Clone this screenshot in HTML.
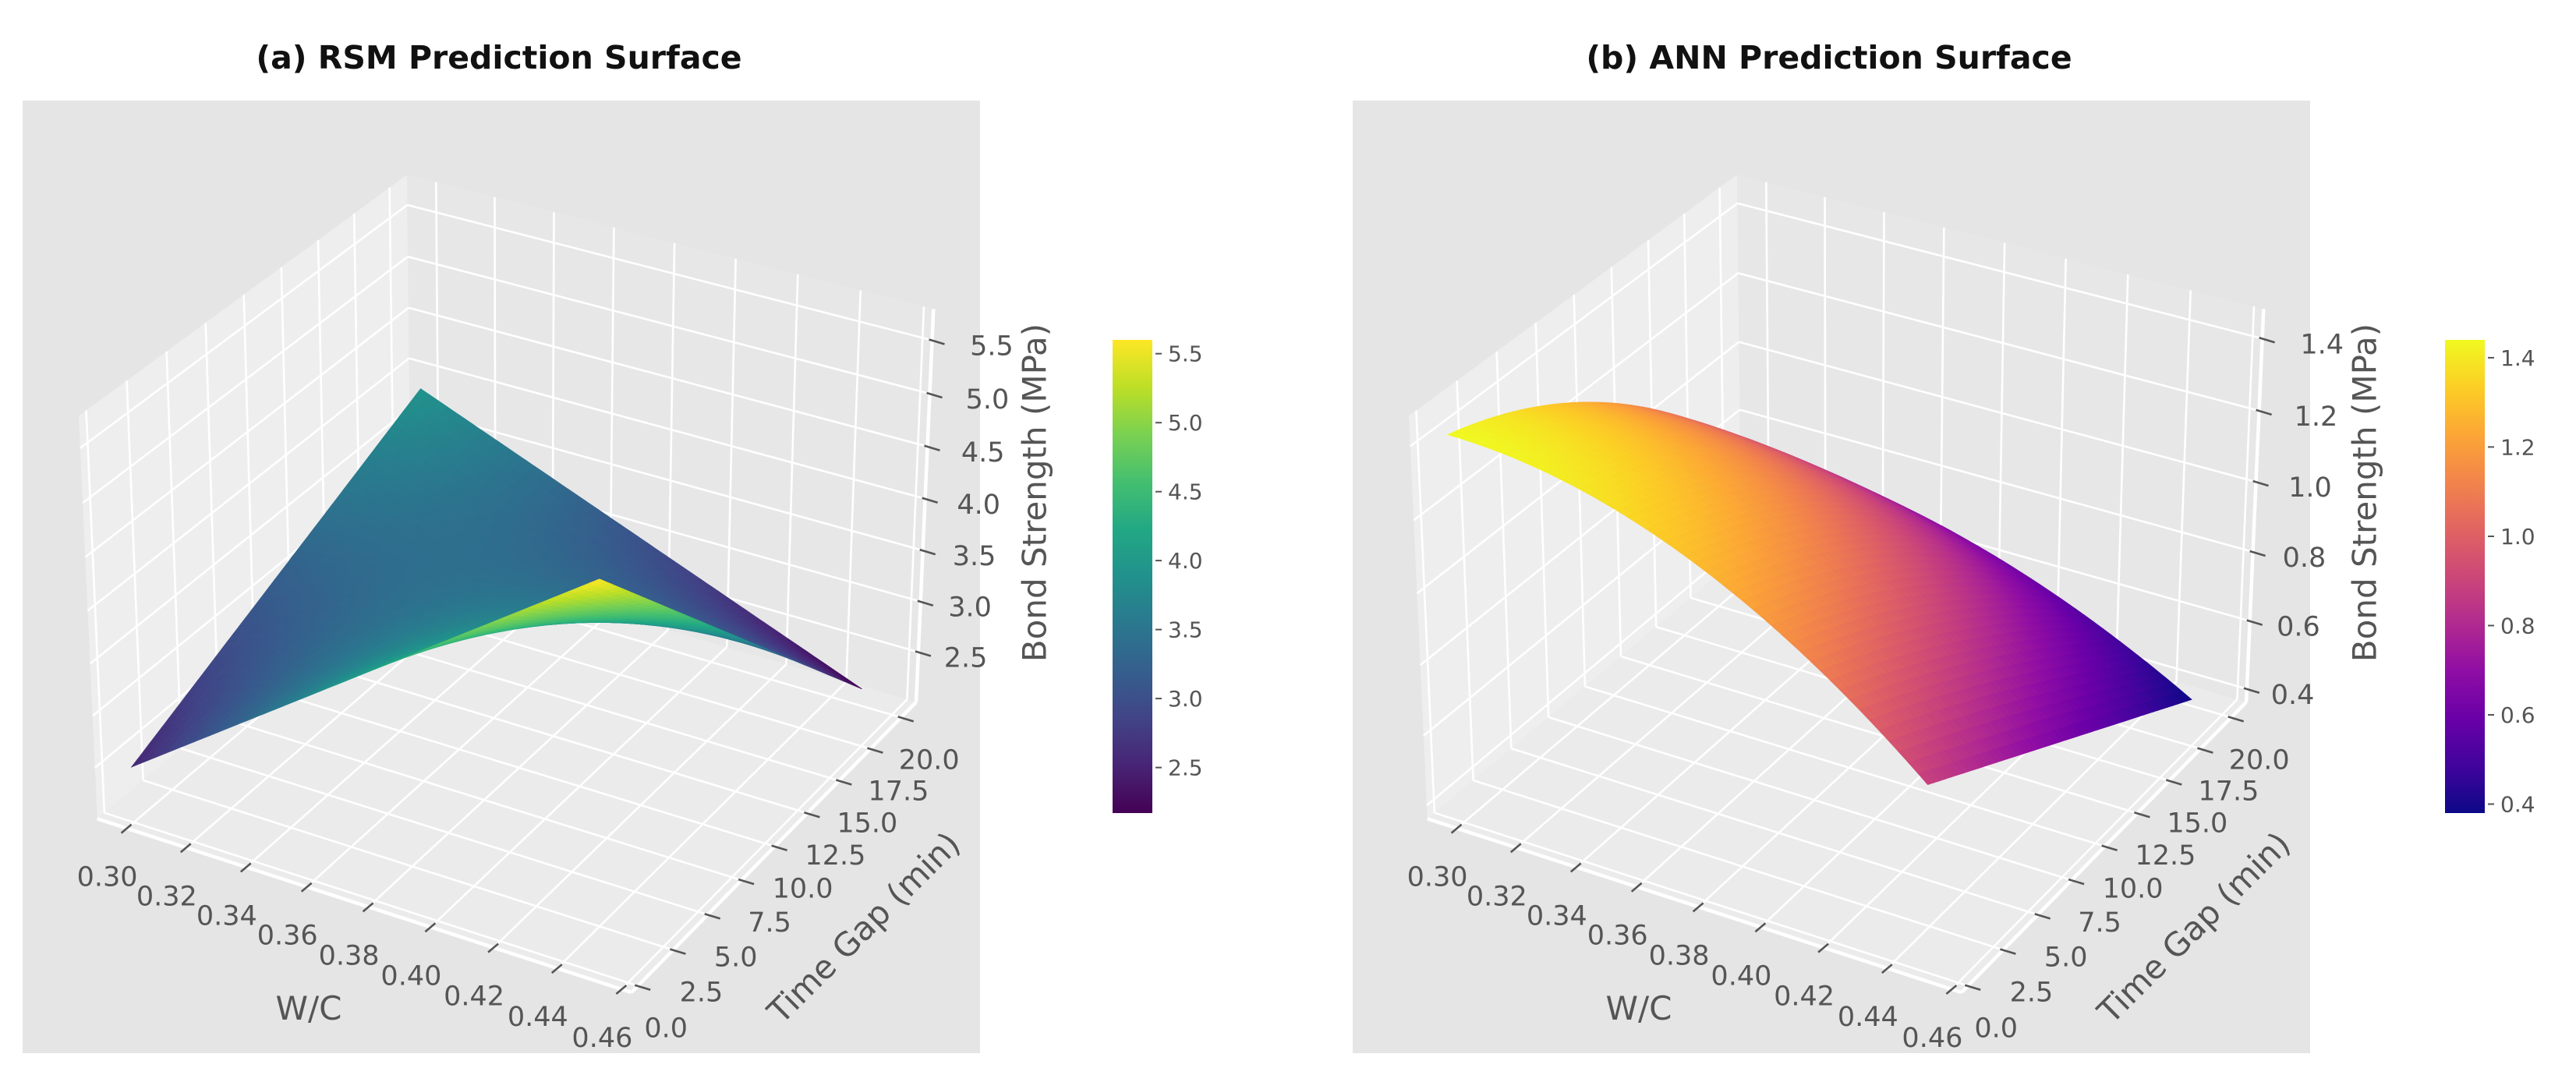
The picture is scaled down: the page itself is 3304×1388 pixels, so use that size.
<!DOCTYPE html>
<html><head><meta charset="utf-8"><title>RSM vs ANN Prediction Surfaces</title>
<style>
html,body{margin:0;padding:0;background:#fff;}
svg{display:block;font-family:"DejaVu Sans","Liberation Sans",sans-serif;}
</style></head>
<body>
<svg id="fig" xmlns="http://www.w3.org/2000/svg" width="3304" height="1388" viewBox="0 0 3304 1388">
<defs>
<linearGradient id="gradViridis" x1="0" y1="1" x2="0" y2="0"></linearGradient>
<linearGradient id="gradPlasma" x1="0" y1="1" x2="0" y2="0"></linearGradient>
</defs>
<rect x="0" y="0" width="3304" height="1388" fill="#ffffff"/>
<g id="panelA"></g>
<g id="panelB"></g>
</svg>
<script>
// ---- data ----
const wcRange = [0.30, 0.45];
const tRange = [0, 20];
// surface coefficients on normalized u=(wc-0.30)/0.15, v=t/20 : [1, u, v, uv, u^2, v^2, u^2 v, u^2 v^2]
const rsmCoef = [2.54, 3.06, 1.37, -4.8, 0, 0, 0, 0];
const annCoef = [1.44, 0, -0.25, 0, -0.56, -0.44, -0.25, 0.44];
const wcTicks = [0.30, 0.32, 0.34, 0.36, 0.38, 0.40, 0.42, 0.44, 0.46];
const wcTickLabels = ["0.30","0.32","0.34","0.36","0.38","0.40","0.42","0.44","0.46"];
const tTicks = [0, 2.5, 5, 7.5, 10, 12.5, 15, 17.5, 20];
const tTickLabels = ["0.0","2.5","5.0","7.5","10.0","12.5","15.0","17.5","20.0"];
const rsmZTicks = [2.5, 3.0, 3.5, 4.0, 4.5, 5.0, 5.5];
const rsmZTickLabels = ["2.5","3.0","3.5","4.0","4.5","5.0","5.5"];
const annZTicks = [0.4, 0.6, 0.8, 1.0, 1.2, 1.4];
const annZTickLabels = ["0.4","0.6","0.8","1.0","1.2","1.4"];
const rsmCbarTicks = [2.5, 3.0, 3.5, 4.0, 4.5, 5.0, 5.5];
const annCbarTicks = [0.4, 0.6, 0.8, 1.0, 1.2, 1.4];

const viridis = ["#440154","#482475","#414487","#355f8d","#2a788e","#21918c","#22a884","#44bf70","#7ad151","#bddf26","#fde725"];
const plasma = ["#0d0887","#41049d","#6a00a8","#8f0da4","#b12a90","#cc4778","#e16462","#f2844b","#fca636","#fcce25","#f0f921"];

const NS = "http://www.w3.org/2000/svg";
function hex2rgb(h){return [parseInt(h.substr(1,2),16),parseInt(h.substr(3,2),16),parseInt(h.substr(5,2),16)];}
function cmap(stops, f){
  f = Math.max(0, Math.min(1, f));
  const p = f*(stops.length-1); const i = Math.min(stops.length-2, Math.floor(p)); const r = p - i;
  const a = hex2rgb(stops[i]), b = hex2rgb(stops[i+1]);
  return "rgb(" + [0,1,2].map(j => Math.round(a[j]+(b[j]-a[j])*r)).join(",") + ")";
}
function mk(parent, tag, attrs){
  const e = document.createElementNS(NS, tag);
  for (const k in attrs) e.setAttribute(k, attrs[k]);
  parent.appendChild(e); return e;
}
function evalSurf(c, wc, t){
  const u = (wc - wcRange[0])/(wcRange[1]-wcRange[0]);
  const v = (t - tRange[0])/(tRange[1]-tRange[0]);
  return c[0] + c[1]*u + c[2]*v + c[3]*u*v + c[4]*u*u + c[5]*v*v + c[6]*u*u*v + c[7]*u*u*v*v;
}

// projection (matplotlib default view azim -60, elev 30, perspective)
const A = 0.5714, B = 0.5714, C = 0.4286;
function makeProj(cx, lims){
  return function(wc, t, z){
    const px = -A + 2*A*(wc - lims.wc[0])/(lims.wc[1]-lims.wc[0]);
    const py = -B + 2*B*(t - lims.t[0])/(lims.t[1]-lims.t[0]);
    const pz = -C + 2*C*(z - lims.z[0])/(lims.z[1]-lims.z[0]);
    const sx = 0.866*px + 0.5*py;
    const sy = -0.25*px + 0.433*py + 0.866*pz;
    const d = 0.433*px - 0.75*py + 0.5*pz;
    const k = 10/(10 - d);
    return {x: cx + 687*sx*k, y: 724.4 - 687.3*sy*k, d: d};
  };
}

function drawPanel(g, opt){
  const P = makeProj(opt.cx, opt.lims);
  const L = opt.lims, ox = opt.ox;
  mk(g, "rect", {x: 29+ox, y: 129, width: 1228, height: 1222, fill: "#e5e5e5",  });
  mk(g, "text", {x: 640+ox, y: 88, "text-anchor": "middle", "font-size": 41, "font-weight": "bold", fill: "#111",  }).textContent = opt.title;

  const panes = [
    {name: "left-wall-pane", fill: "#eeeeee", pts: [[L.wc[0],L.t[0],L.z[0]],[L.wc[0],L.t[1],L.z[0]],[L.wc[0],L.t[1],L.z[1]],[L.wc[0],L.t[0],L.z[1]]]},
    {name: "back-wall-pane", fill: "#e7e7e7", pts: [[L.wc[0],L.t[1],L.z[0]],[L.wc[1],L.t[1],L.z[0]],[L.wc[1],L.t[1],L.z[1]],[L.wc[0],L.t[1],L.z[1]]]},
    {name: "floor-pane", fill: "#ebebeb", pts: [[L.wc[0],L.t[0],L.z[0]],[L.wc[1],L.t[0],L.z[0]],[L.wc[1],L.t[1],L.z[0]],[L.wc[0],L.t[1],L.z[0]]]}
  ];
  panes.forEach(p => {
    const pts = p.pts.map(q => {const r = P(q[0],q[1],q[2]); return r.x.toFixed(1)+","+r.y.toFixed(1);}).join(" ");
    mk(g, "polygon", {points: pts, fill: p.fill,  });
  });

  const grid = mk(g, "g", {stroke: "#ffffff", "stroke-width": 2.6, fill: "none",  });
  function line(par, a, b, name, extra){
    const e = mk(par, "line", Object.assign({x1: a.x.toFixed(1), y1: a.y.toFixed(1), x2: b.x.toFixed(1), y2: b.y.toFixed(1)}, extra||{}));
    
    
    return e;
  }
  wcTicks.forEach(w => {
    line(grid, P(w,L.t[0],L.z[0]), P(w,L.t[1],L.z[0]), "wc-gridline-floor");
    line(grid, P(w,L.t[1],L.z[0]), P(w,L.t[1],L.z[1]), "wc-gridline-wall");
  });
  tTicks.forEach(t => {
    line(grid, P(L.wc[0],t,L.z[0]), P(L.wc[1],t,L.z[0]), "time-gridline-floor");
    line(grid, P(L.wc[0],t,L.z[0]), P(L.wc[0],t,L.z[1]), "time-gridline-wall");
  });
  opt.zTicks.forEach(z => {
    line(grid, P(L.wc[0],L.t[0],z), P(L.wc[0],L.t[1],z), "z-gridline-left");
    line(grid, P(L.wc[0],L.t[1],z), P(L.wc[1],L.t[1],z), "z-gridline-back");
  });
  const ax = mk(g, "g", {stroke: "#ffffff", "stroke-width": 4.5,  });
  line(ax, P(L.wc[0],L.t[0],L.z[0]), P(L.wc[1],L.t[0],L.z[0]), "wc-axis-line");
  line(ax, P(L.wc[1],L.t[0],L.z[0]), P(L.wc[1],L.t[1],L.z[0]), "time-axis-line");
  line(ax, P(L.wc[1],L.t[1],L.z[0]), P(L.wc[1],L.t[1],L.z[1]), "z-axis-line");

  // surface
  const surf = mk(g, "g", { });
  const N = 50, quads = [];
  let zmin = Infinity, zmax = -Infinity;
  const pts = [];
  for (let i = 0; i <= N; i++){
    pts.push([]);
    for (let j = 0; j <= N; j++){
      const wc = wcRange[0] + (wcRange[1]-wcRange[0])*i/N;
      const t = tRange[0] + (tRange[1]-tRange[0])*j/N;
      const z = evalSurf(opt.coef, wc, t);
      zmin = Math.min(zmin, z); zmax = Math.max(zmax, z);
      const p = P(wc, t, z); p.z = z; pts[i].push(p);
    }
  }
  for (let i = 0; i < N; i++) for (let j = 0; j < N; j++){
    const q = [pts[i][j], pts[i+1][j], pts[i+1][j+1], pts[i][j+1]];
    quads.push({q: q, d: (q[0].d+q[1].d+q[2].d+q[3].d)/4, z: (q[0].z+q[1].z+q[2].z+q[3].z)/4});
  }
  quads.sort((a,b) => a.d - b.d);
  quads.forEach(Q => {
    const col = cmap(opt.cm, (Q.z - zmin)/(zmax - zmin));
    const e = mk(surf, "polygon", {points: Q.q.map(p => p.x.toFixed(1)+","+p.y.toFixed(1)).join(" "), fill: col, stroke: col, "stroke-width": 0.7});
    
    
  });

  // ticks and labels
  const tk = mk(g, "g", {stroke: "#555555", "stroke-width": 2.6,  });
  const tl = mk(g, "g", {fill: "#555555", "font-size": 35, "text-anchor": "middle",  });
  wcTicks.forEach((w, i) => {
    const p = P(w, L.t[0], L.z[0]);
    line(tk, {x: p.x+6, y: p.y-5}, {x: p.x-7, y: p.y+6}, "wc-tick");
    const e = mk(tl, "text", {x: (p.x-25).toFixed(1), y: (p.y+74).toFixed(1)});
    e.textContent = wcTickLabels[i];
    
    
  });
  tTicks.forEach((t, i) => {
    const p = P(L.wc[1], t, L.z[0]);
    line(tk, {x: p.x-4, y: p.y-1}, {x: p.x+16, y: p.y+5}, "time-tick");
    const e = mk(tl, "text", {x: (p.x+36).toFixed(1), y: (p.y+66).toFixed(1)});
    e.textContent = tTickLabels[i];
    
    
  });
  opt.zTicks.forEach((z, i) => {
    const p = P(L.wc[1], L.t[1], z);
    const f = (z - L.z[0])/(L.z[1]-L.z[0]);
    line(tk, {x: p.x-4, y: p.y-1}, {x: p.x+16, y: p.y+5}, "z-tick");
    const e = mk(tl, "text", {x: (p.x+58+20*f).toFixed(1), y: (p.y+19).toFixed(1)});
    e.textContent = opt.zTickLabels[i];
    
    
  });
  mk(g, "text", {x: 396+ox, y: 1308, "font-size": 42, fill: "#555555", "text-anchor": "middle",  }).textContent = "W/C";
  mk(g, "text", {x: 1108+ox, y: 1190, "font-size": 42, fill: "#555555", "text-anchor": "middle", "dominant-baseline": "central", transform: "rotate(-44.8 "+(1108+ox)+" 1190)",  }).textContent = "Time Gap (min)";
  mk(g, "text", {x: 1327+ox, y: 632, "font-size": 42, fill: "#555555", "text-anchor": "middle", "dominant-baseline": "central", transform: "rotate(-90 "+(1327+ox)+" 632)",  }).textContent = "Bond Strength (MPa)";

  // colorbar
  const cb = mk(g, "g", { });
  const cbx = opt.cbx, top = 436, bot = 1043, w = 51;
  const grad = document.getElementById(opt.gradId);
  opt.cm.forEach((c, i) => mk(grad, "stop", {offset: (i/(opt.cm.length-1)).toFixed(3), "stop-color": c}));
  mk(cb, "rect", {x: cbx, y: top, width: w, height: bot-top, fill: "url(#"+opt.gradId+")",  });
  opt.cbTicks.forEach(v => {
    const y = top + (zmax - v)/(zmax - zmin)*(bot-top);
    line(cb, {x: cbx+w+4, y: y}, {x: cbx+w+12, y: y}, "colorbar-tick", {stroke: "#555555", "stroke-width": 2});
    const e = mk(cb, "text", {x: cbx+w+20, y: (y+10).toFixed(1), "font-size": 28, fill: "#555555"});
    e.textContent = v.toFixed(1);
    
    
  });
}

drawPanel(document.getElementById("panelA"), {
  ox: 0, cx: 659.3, title: "(a) RSM Prediction Surface", coef: rsmCoef, cm: viridis, gradId: "gradViridis",
  lims: {wc: [0.290, 0.463], t: [-0.45, 21.25], z: [2.0, 5.79]},
  zTicks: rsmZTicks, zTickLabels: rsmZTickLabels, cbTicks: rsmCbarTicks, cbx: 1427
});
drawPanel(document.getElementById("panelB"), {
  ox: 1706, cx: 659.3+1706, title: "(b) ANN Prediction Surface", coef: annCoef, cm: plasma, gradId: "gradPlasma",
  lims: {wc: [0.290, 0.463], t: [-0.45, 21.25], z: [0.361, 1.481]},
  zTicks: annZTicks, zTickLabels: annZTickLabels, cbTicks: annCbarTicks, cbx: 3136
});
</script>
</body></html>
